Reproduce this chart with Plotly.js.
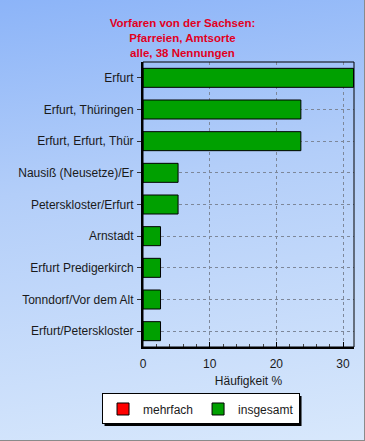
<!DOCTYPE html>
<html>
<head>
<meta charset="utf-8">
<script src="https://cdn.plot.ly/plotly-3.0.1.min.js"></script>
<style>
  html, body { margin: 0; padding: 0; }
  #chart {
    width: 365px; height: 441px;
    background: linear-gradient(172deg, #8cb4f8 0%, #b3cef9 40%, #d8e8fc 100%);
    box-shadow: inset -1px -1px 0 #8a8a8a;
  }
</style>
</head>
<body>
<div id="chart"></div>
<script>
const categories = [
  "Erfurt",
  "Erfurt, Thüringen",
  "Erfurt, Erfurt, Thür",
  "Nausiß (Neusetze)/Er",
  "Peterskloster/Erfurt",
  "Arnstadt",
  "Erfurt Predigerkirch",
  "Tonndorf/Vor dem Alt",
  "Erfurt/Peterskloster"
];
const insgesamt = [31.58, 23.68, 23.68, 5.26, 5.26, 2.63, 2.63, 2.63, 2.63];
const mehrfach = [0, 0, 0, 0, 0, 0, 0, 0, 0];
const xTicks = [0, 10, 20, 30];
const titleLines = ["Vorfaren von der Sachsen:", "Pfarreien, Amtsorte", "alle, 38 Nennungen"];

const traces = [
  {
    type: "bar", orientation: "h", name: "mehrfach",
    x: mehrfach, y: categories, width: 0.6,
    marker: { color: "#ff0000", line: { color: "#000000", width: 1 } },
    hoverinfo: "skip"
  },
  {
    type: "bar", orientation: "h", name: "insgesamt",
    x: insgesamt, y: categories, width: 0.6,
    marker: { color: "#00a000", line: { color: "#000000", width: 1 } }
  }
];

const frame = { type: "rect", xref: "paper", yref: "paper", x0: 0, x1: 1, y0: 0, y1: 1,
  line: { color: "#000000", width: 1 }, layer: "above" };

const layout = {
  width: 365, height: 441,
  paper_bgcolor: "rgba(0,0,0,0)",
  plot_bgcolor: "rgba(0,0,0,0)",
  margin: { l: 143, r: 11, t: 62, b: 94 },
  font: { family: "Liberation Sans, Arial, sans-serif", size: 12, color: "#1a1a1a" },
  barmode: "overlay",
  title: {
    text: titleLines.join("<br>"),
    font: { family: "Liberation Sans, Arial, sans-serif", size: 11.5, color: "#e2001e", weight: "bold" },
    x: 0.5, xref: "container", xanchor: "center",
    y: 1 - 27 / 441, yref: "container", yanchor: "top"
  },
  xaxis: {
    range: [0, 31.65],
    tickvals: xTicks,
    ticktext: xTicks.map(String),
    showgrid: true, gridcolor: "#7d8799", griddash: "3px,3px", gridwidth: 1,
    zeroline: false,
    showline: true, linecolor: "#000000", linewidth: 2,
    ticks: "inside", ticklen: 5, tickcolor: "#000000",
    minor: { dtick: 2, ticks: "inside", ticklen: 3, tickcolor: "#444444", showgrid: false },
    tickfont: { size: 12, color: "#1a1a1a" },
    ticklabelstandoff: 5,
    title: { text: "Häufigkeit %", font: { size: 12, color: "#1a1a1a" }, standoff: 6 },
    fixedrange: true
  },
  yaxis: {
    autorange: "reversed",
    type: "category",
    showgrid: true, gridcolor: "#7d8799", griddash: "3px,3px", gridwidth: 1,
    showline: true, linecolor: "#000000", linewidth: 2,
    ticks: "outside", ticklen: 4, tickcolor: "#333333",
    tickfont: { size: 12, color: "#1a1a1a" },
    ticklabelstandoff: 1,
    fixedrange: true
  },
  shapes: [frame],
  legend: {
    orientation: "h",
    x: 0.275, xanchor: "center", xref: "paper",
    y: -0.2175, yanchor: "middle", yref: "paper",
    bgcolor: "#ffffff", bordercolor: "#000000", borderwidth: 1,
    font: { size: 12, color: "#1a1a1a" },
    itemwidth: 30,
    tracegroupgap: 0,
    traceorder: "normal"
  },
  showlegend: true
};

Plotly.newPlot("chart", traces, layout, { displayModeBar: false, staticPlot: true }).then(gd => {
  // drop shadow behind the legend box
  const bg = gd.querySelector(".legend .bg");
  if (!bg) return;
  const r = bg.getBoundingClientRect();
  const c = gd.getBoundingClientRect();
  const fs = gd._fullLayout._size;
  const px2x = p => (p - c.left - fs.l) / fs.w;
  const px2y = p => 1 - (p - c.top - fs.t) / fs.h;
  const shadow = { type: "rect", xref: "paper", yref: "paper",
    x0: px2x(r.left + 2), x1: px2x(r.right + 2),
    y0: px2y(r.bottom + 2), y1: px2y(r.top + 2),
    fillcolor: "#000000", line: { width: 0 }, layer: "above" };
  Plotly.relayout(gd, { shapes: [frame, shadow] });
});
</script>
</body>
</html>
